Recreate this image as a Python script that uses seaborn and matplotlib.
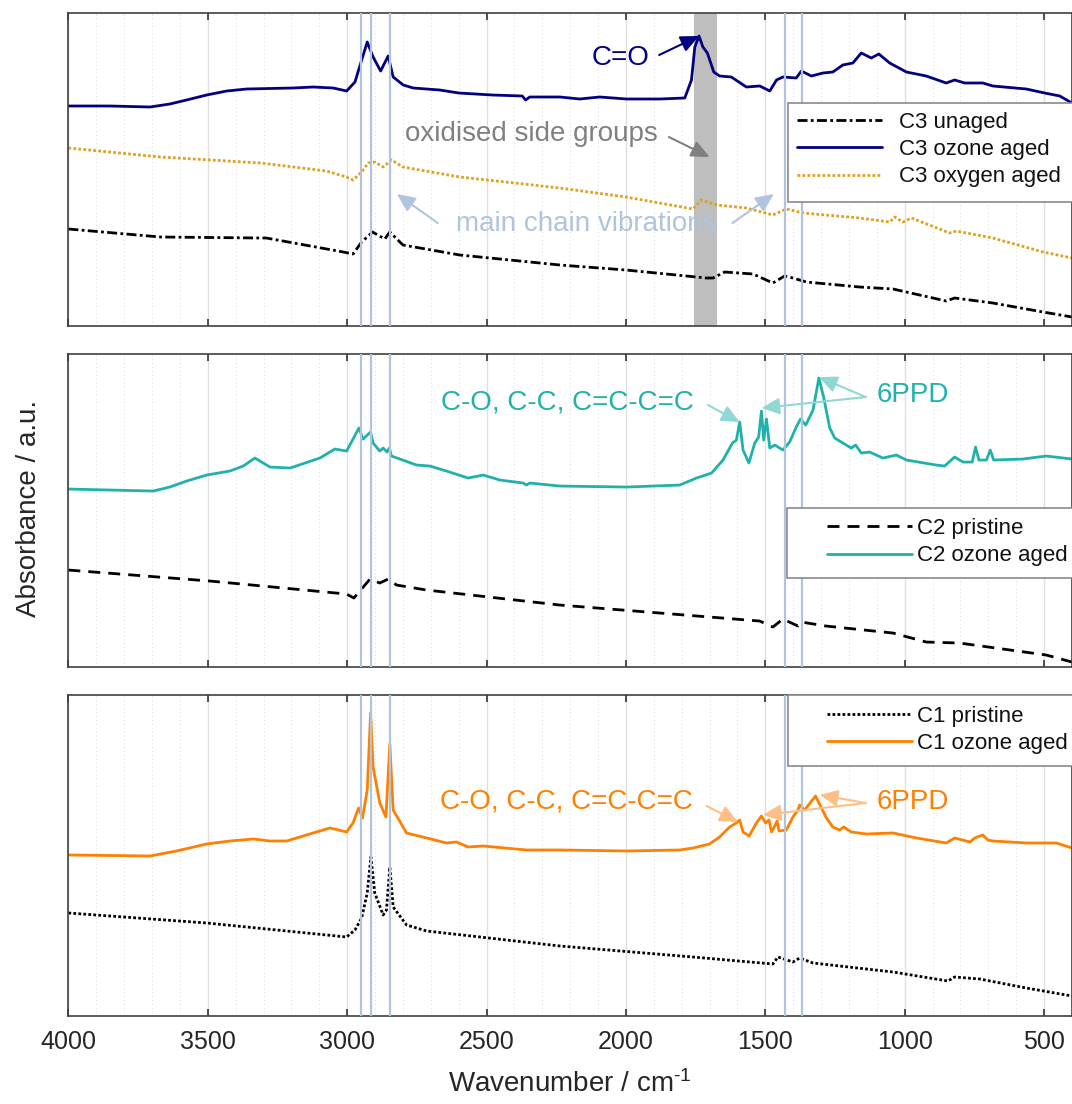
import matplotlib
matplotlib.use("Agg")
import matplotlib.pyplot as plt
from matplotlib.ticker import MultipleLocator
from matplotlib.patches import Rectangle
import seaborn as sns

# ---------------- spectra (wavenumber / cm-1, absorbance in a.u., offset per panel) -------------
c3_ozone_wn = [4000, 3851, 3707, 3636, 3576, 3504, 3432, 3361, 3194, 3122, 3050, 3002, 2972, 2948,
               2928, 2907, 2880, 2853, 2835, 2799, 2763, 2668, 2600, 2480, 2372, 2360, 2345, 2237,
               2166, 2094, 1998, 1879, 1789, 1765, 1753, 1738, 1724, 1708, 1685, 1664, 1622, 1568,
               1520, 1484, 1460, 1437, 1389, 1371, 1335, 1293, 1258, 1222, 1186, 1156, 1120, 1093,
               1054, 994, 923, 851, 821, 785, 720, 684, 564, 498, 444, 400]
c3_ozone_abs = [220, 220, 219, 222, 226, 231, 235, 237, 238, 239, 238, 235, 244, 266,
                284, 269, 255, 270, 249, 241, 238, 236, 233, 231, 230, 226, 229, 229,
                227, 229, 227, 227, 228, 246, 279, 290, 279, 273, 254, 250, 249, 239,
                240, 235, 246, 249, 248, 255, 250, 253, 254, 261, 263, 273, 268, 272,
                263, 254, 250, 243, 246, 243, 243, 240, 237, 233, 230, 223]

c3_oxygen_wn = [4000, 3670, 3310, 3075, 3002, 2979, 2948, 2925, 2901, 2871, 2841, 2800, 2596, 2237,
                2000, 1760, 1729, 1675, 1568, 1473, 1425, 1365, 1162, 1054, 1036, 1006, 976, 839,
                815, 684, 504, 400]
c3_oxygen_abs = [178, 169, 163, 155, 149, 146, 154, 163, 164, 159, 166, 159, 149, 138,
                 129, 117, 126, 121, 118, 111, 117, 113, 108, 104, 109, 104, 108, 93,
                 95, 88, 74, 68]

c3_unaged_wn = [4000, 3670, 3310, 3290, 3014, 2979, 2948, 2909, 2865, 2847, 2800, 2596, 2237, 2000,
                1711, 1688, 1646, 1544, 1473, 1431, 1401, 1353, 1162, 1042, 851, 821, 684, 504, 400]
c3_unaged_abs = [97, 89, 88, 88, 74, 72, 84, 94, 87, 94, 81, 71, 61, 56,
                 48, 48, 54, 52, 43, 50, 48, 44, 39, 37, 25, 28, 23, 14, 9]

c2_ozone_wn = [4000, 3696, 3636, 3576, 3504, 3421, 3373, 3331, 3277, 3205, 3098, 3044, 3002, 2979,
               2958, 2943, 2916, 2907, 2883, 2871, 2857, 2849, 2841, 2751, 2703, 2644, 2566, 2512,
               2452, 2369, 2357, 2345, 2237, 1998, 1807, 1747, 1693, 1652, 1618, 1604, 1592, 1580,
               1559, 1538, 1524, 1514, 1506, 1496, 1484, 1466, 1437, 1413, 1389, 1374, 1355, 1329,
               1308, 1291, 1269, 1251, 1222, 1192, 1176, 1156, 1126, 1078, 1030, 994, 887, 857,
               821, 791, 758, 746, 734, 707, 693, 681, 576, 522, 492, 400]
c2_ozone_abs = [178, 176, 180, 186, 192, 196, 201, 209, 200, 199, 209, 218, 216, 228,
                239, 228, 235, 224, 216, 219, 215, 219, 211, 202, 201, 196, 189, 192,
                187, 184, 182, 184, 181, 180, 182, 189, 194, 207, 224, 227, 245, 217,
                204, 224, 230, 256, 227, 248, 219, 222, 217, 225, 240, 248, 242, 257,
                289, 270, 239, 229, 224, 219, 222, 214, 215, 209, 212, 207, 202, 201,
                210, 205, 205, 220, 207, 207, 217, 207, 208, 210, 211, 208]

c2_pristine_wn = [4000, 3492, 3002, 2976, 2918, 2883, 2853, 2823, 2715, 2237, 1520, 1473, 1437,
                  1383, 1371, 1282, 1042, 923, 803, 492, 400]
c2_pristine_abs = [97, 86, 73, 69, 88, 84, 88, 82, 77, 62, 46, 40, 48,
                   41, 45, 41, 34, 25, 24, 12, 5]

c1_ozone_wn = [4000, 3707, 3612, 3504, 3420, 3337, 3277, 3217, 3122, 3062, 3002, 2979, 2959, 2945,
               2928, 2916, 2907, 2883, 2861, 2847, 2835, 2787, 2715, 2644, 2608, 2566, 2512, 2357,
               2237, 1998, 1807, 1759, 1700, 1664, 1628, 1604, 1592, 1580, 1558, 1532, 1514, 1499,
               1487, 1478, 1466, 1458, 1451, 1425, 1401, 1383, 1377, 1359, 1320, 1281, 1258, 1234,
               1219, 1192, 1138, 1042, 958, 851, 821, 766, 749, 720, 702, 684, 564, 456, 400]
c1_ozone_abs = [161, 160, 165, 172, 175, 177, 175, 175, 183, 188, 184, 193, 208, 198,
                226, 303, 249, 213, 199, 272, 206, 183, 178, 173, 174, 169, 170, 166,
                166, 165, 166, 168, 172, 179, 189, 193, 196, 184, 180, 193, 200, 193,
                196, 184, 190, 195, 185, 186, 199, 206, 211, 206, 220, 198, 189, 186,
                189, 184, 182, 183, 178, 173, 178, 174, 178, 181, 176, 175, 173, 173, 168]

c1_pristine_wn = [4000, 3504, 3002, 2972, 2948, 2928, 2915, 2901, 2871, 2859, 2847, 2835, 2787,
                  2715, 2237, 1760, 1473, 1455, 1401, 1377, 1329, 1042, 845, 821, 731, 564, 400]
c1_pristine_abs = [103, 93, 79, 86, 98, 123, 159, 123, 101, 106, 149, 109, 91,
                   85, 70, 59, 52, 59, 54, 58, 53, 44, 35, 39, 37, 28, 20]

# characteristic band positions (cm-1)
main_chain_bands = [2952, 2916, 2848, 1430, 1370]
carbonyl_band = [1755, 1675]

# ---------------- styling ----------------
sns.set_style("white")
plt.rcParams["font.family"] = ["Liberation Sans", "DejaVu Sans"]
plt.rcParams["mathtext.fontset"] = "custom"
plt.rcParams["mathtext.rm"] = "Liberation Sans"
plt.rcParams["mathtext.default"] = "regular"

NAVY = "#000080"
GOLD = "#E0A020"
TEAL = "#20B2AA"
TEAL_LIGHT = "#8FD8D3"
ORANGE = "#FF7F00"
ORANGE_LIGHT = "#FFBE85"
STEEL = "#B0C4DE"
GREY = "#808080"

fig = plt.figure(figsize=(10.72, 11.04), dpi=100)
ax1 = fig.add_axes([0.0638, 0.7047, 0.9362, 0.2838])
ax2 = fig.add_axes([0.0638, 0.3958, 0.9362, 0.2835])
ax3 = fig.add_axes([0.0638, 0.0797, 0.9362, 0.2908])
ylims = [313.3, 313.0, 321.0]

for ax, ytop in zip([ax1, ax2, ax3], ylims):
    ax.set_xlim(4000, 400)
    ax.set_ylim(0, ytop)
    ax.set_yticks([])
    ax.xaxis.set_major_locator(MultipleLocator(500))
    ax.xaxis.set_minor_locator(MultipleLocator(100))
    ax.grid(which="major", axis="x", color="#e0e0e0", lw=1.0, zorder=0)
    ax.grid(which="minor", axis="x", color="#dadada", lw=0.7, ls=(0, (1, 3)), zorder=0)
    ax.set_axisbelow(True)
    ax.tick_params(axis="x", which="major", direction="in", top=True, bottom=True,
                   length=5, width=1.2, color="#333333", labelsize=18,
                   labelcolor="#262626", pad=10)
    ax.tick_params(axis="x", which="minor", length=0)
    for s in ax.spines.values():
        s.set_color("#404040")
        s.set_linewidth(1.2)
    for b in main_chain_bands:
        ax.axvline(b, color=STEEL, lw=1.6, zorder=3)

ax1.tick_params(labelbottom=False)
ax2.tick_params(labelbottom=False)

ax1.axvspan(carbonyl_band[0], carbonyl_band[1], color="#bebebe", lw=0, zorder=1)


def spectrum(ax, wn, ab, color, ls, label, z=2):
    sns.lineplot(x=wn, y=ab, ax=ax, color=color, linestyle=ls, lw=2.0,
                 sort=False, estimator=None, label=label, zorder=z, legend=False)
    line = ax.lines[-1]
    line.set_solid_joinstyle("round")
    return line


# top panel
h1 = [spectrum(ax1, c3_unaged_wn, c3_unaged_abs, "black", (0, (3.6, 1.2, 1.0, 1.2)), "C3 unaged"),
      spectrum(ax1, c3_ozone_wn, c3_ozone_abs, NAVY, "-", "C3 ozone aged", 2.5),
      spectrum(ax1, c3_oxygen_wn, c3_oxygen_abs, GOLD, (0, (1, 0.8)), "C3 oxygen aged")]
# middle panel
h2 = [spectrum(ax2, c2_pristine_wn, c2_pristine_abs, "black", (0, (4.3, 2.9)), "C2 pristine"),
      spectrum(ax2, c2_ozone_wn, c2_ozone_abs, TEAL, "-", "C2 ozone aged", 2.5)]
# bottom panel
h3 = [spectrum(ax3, c1_pristine_wn, c1_pristine_abs, "black", (0, (1, 0.8)), "C1 pristine"),
      spectrum(ax3, c1_ozone_wn, c1_ozone_abs, ORANGE, "-", "C1 ozone aged", 2.5)]


def boxed_legend(ax, handles, box, anchor, hpad, spacing):
    ax.add_patch(Rectangle((box[0], box[1]), 1.05 - box[0], box[2] - box[1],
                           transform=ax.transAxes, facecolor="white", edgecolor="#8a8a8a",
                           lw=1.2, zorder=6, clip_on=False))
    leg = ax.legend(handles=handles, loc="upper left", bbox_to_anchor=anchor,
                    frameon=False, fontsize=16, handlelength=3.85, handletextpad=hpad,
                    labelspacing=spacing, borderpad=0, borderaxespad=0)
    leg.set_zorder(7)
    for t in leg.get_texts():
        t.set_color("#111111")


boxed_legend(ax1, h1, (0.717, 0.396, 0.712), (0.7258, 0.683), 0.76, 0.28)
boxed_legend(ax2, h2, (0.716, 0.285, 0.509), (0.7558, 0.476), 0.22, 0.28)
boxed_legend(ax3, h3, (0.717, 0.779, 1.0), (0.7558, 0.967), 0.22, 0.28)


def arrow(ax, tail, head, color):
    ax.annotate("", xy=head, xytext=tail,
                arrowprops=dict(arrowstyle="-|>,head_length=0.55,head_width=0.25",
                                color=color, lw=1.5, shrinkA=0, shrinkB=0,
                                mutation_scale=20), zorder=5)


# top annotations
ax1.text(2019, 268, "C=O", color=NAVY, fontsize=20, ha="center", va="center", zorder=5)
arrow(ax1, (1881, 271), (1738, 290), NAVY)
ax1.text(2341, 192, "oxidised side groups", color=GREY, fontsize=20, ha="center",
         va="center", zorder=5)
arrow(ax1, (1846, 189), (1700, 169), GREY)
ax1.text(2144, 102, "main chain vibrations", color=STEEL, fontsize=20, ha="center",
         va="center", zorder=5)
arrow(ax1, (2675, 103), (2822, 132), STEEL)
arrow(ax1, (1618, 103), (1469, 132), STEEL)

# middle annotations
ax2.text(2209, 265, "C-O, C-C, C=C-C=C", color=TEAL, fontsize=20, ha="center",
         va="center", zorder=5)
arrow(ax2, (1706, 262), (1592, 245), TEAL_LIGHT)
ax2.text(972, 272, "6PPD", color=TEAL, fontsize=20, ha="center", va="center", zorder=5)
arrow(ax2, (1140, 270), (1514, 259), TEAL_LIGHT)
arrow(ax2, (1140, 270), (1308, 290), TEAL_LIGHT)

# bottom annotations
ax3.text(2213, 214, "C-O, C-C, C=C-C=C", color=ORANGE, fontsize=20, ha="center",
         va="center", zorder=5)
arrow(ax3, (1711, 210), (1598, 194), ORANGE_LIGHT)
ax3.text(972, 214, "6PPD", color=ORANGE, fontsize=20, ha="center", va="center", zorder=5)
arrow(ax3, (1140, 213), (1509, 201), ORANGE_LIGHT)
arrow(ax3, (1140, 213), (1305, 221), ORANGE_LIGHT)

ax3.set_xlabel(r"Wavenumber / cm$^{\text{-}1}$", fontsize=20, color="#262626", labelpad=12)
fig.text(0.027, 0.539, "Absorbance / a.u.", rotation=90, ha="center", va="center",
         fontsize=20, color="#262626")

fig.savefig("out.png", dpi=100)
